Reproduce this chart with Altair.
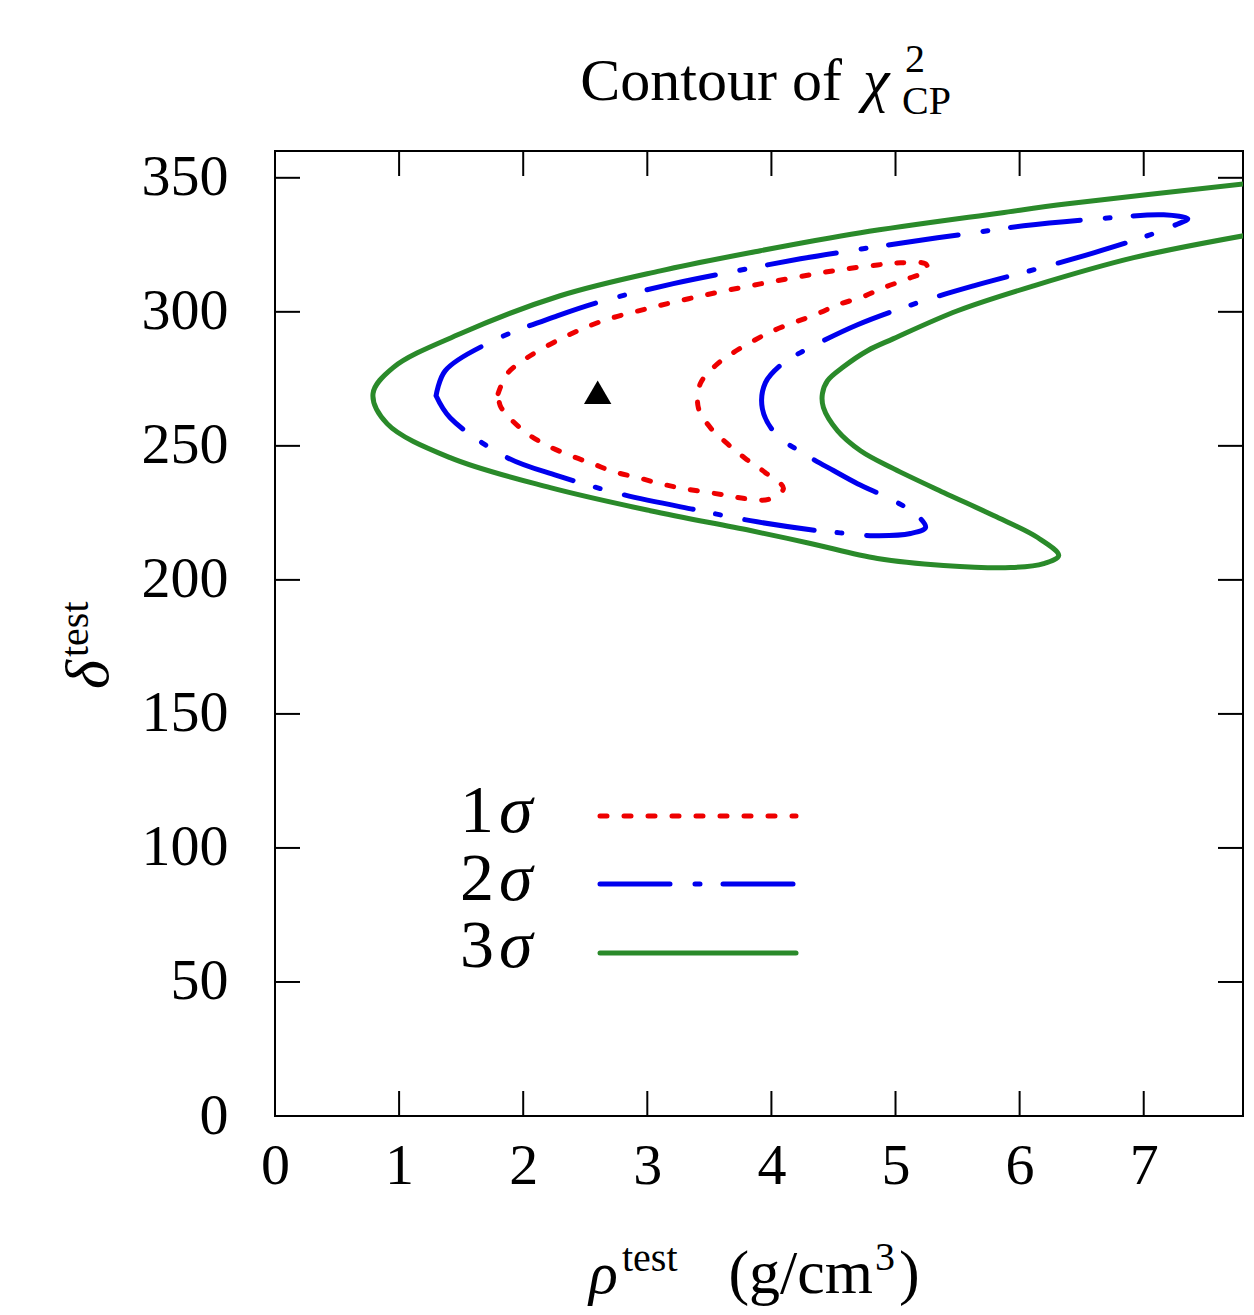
import altair as alt
import pandas as pd

# ---- data ----
red_rho = [1.798, 1.871, 2.032, 2.355, 2.645, 3.000, 3.371, 3.750, 4.129, 4.500, 4.855, 5.040, 5.242, 5.258,
           5.097, 4.903, 4.734, 4.532, 4.371, 4.016, 3.871, 3.694, 3.548, 3.427, 3.411, 3.508, 3.645, 3.790,
           3.952, 4.097, 3.976, 3.790, 3.605, 3.290, 3.105, 2.919, 2.726, 2.556, 2.379, 2.194, 2.032, 1.895,
           1.815, 1.798]
red_delta = [269.5, 276.9, 282.9, 291.1, 296.7, 301.2, 305.3, 309.0, 312.3, 315.3, 317.5, 318.3, 317.9, 315.6,
             312.3, 309.0, 305.6, 302.6, 299.3, 293.0, 289.6, 284.8, 279.9, 273.2, 264.3, 256.8, 250.8, 245.3,
             240.0, 234.1, 230.0, 230.3, 231.8, 234.1, 235.9, 238.2, 240.4, 243.4, 246.4, 250.1, 254.6, 260.2,
             265.0, 269.5]

blue_rho = [1.298, 1.371, 1.758, 2.274, 2.645, 3.210, 3.645, 4.234, 4.637, 5.065, 5.629, 6.032, 6.734, 7.161,
            7.355, 7.274, 7.032, 6.597, 6.169, 5.629, 5.226, 4.694, 4.234, 4.097, 3.952, 3.927, 4.032, 4.315,
            4.500, 4.694, 4.984, 5.177, 5.242, 5.121, 4.823, 4.613, 4.371, 3.831, 3.427, 2.806, 2.274, 1.871,
            1.411, 1.298]
blue_delta = [268.7, 278.0, 289.2, 298.5, 304.1, 310.5, 314.6, 319.8, 322.8, 325.8, 329.5, 332.1, 335.1, 336.2,
              334.7, 332.8, 328.4, 322.0, 316.4, 309.7, 304.1, 295.2, 284.8, 281.0, 273.6, 263.9, 254.6, 245.6,
              240.8, 235.9, 229.6, 224.0, 219.5, 217.3, 216.5, 217.3, 218.4, 222.1, 225.8, 231.8, 238.9, 245.6,
              260.5, 268.7]

green_rho = [7.806, 6.387, 5.847, 4.718, 3.911, 3.105, 2.298, 1.492, 0.952, 0.790, 0.903, 1.411, 2.218, 3.024,
             3.831, 4.315, 4.855, 5.387, 5.927, 6.194, 6.315, 6.145, 5.790, 5.387, 4.984, 4.718, 4.532, 4.419,
             4.411, 4.452, 4.581, 4.774, 4.984, 5.500, 6.113, 6.919, 7.806]
green_delta = [347.7, 340.3, 336.9, 329.5, 322.8, 315.3, 306.0, 291.8, 279.2, 269.5, 258.3, 245.6, 234.4, 225.8,
               218.4, 213.6, 208.0, 205.4, 204.6, 206.1, 209.1, 215.8, 224.0, 232.6, 241.5, 248.2, 255.7, 264.3,
               269.5, 274.3, 279.5, 285.5, 290.0, 300.4, 309.7, 320.2, 328.4]

best_rho = [2.6]
best_delta = [270]

x_ticks = [0, 1, 2, 3, 4, 5, 6, 7]
y_ticks = [0, 50, 100, 150, 200, 250, 300, 350]

legend_labels = ["1", "2", "3"]

# ---- layout ----
W, H = 968, 965
FONT = "Liberation Serif"
TICK = 25
RED, BLUE, GREEN = "#ee0000", "#0000ee", "#2a8a2a"
RED_DASH = [7, 17]
BLUE_DASH = [70, 25, 5, 23]

xscale = alt.Scale(domain=[0, 7.8], nice=False, zero=False)
yscale = alt.Scale(domain=[0, 360], nice=False, zero=False)
xaxis = alt.Axis(values=x_ticks, ticks=False, domain=False, grid=False, labelFont=FONT, labelFontSize=58,
                 labelColor="black", labelPadding=21, labelFlush=False, labelOverlap=False, title=None)
yaxis = alt.Axis(values=y_ticks, ticks=False, domain=False, grid=False, labelFont=FONT, labelFontSize=58,
                 labelColor="black", labelPadding=47, labelFlush=False, labelOverlap=False, title=None)


def contour(rho, delta, color, dash=None):
    df = pd.DataFrame({"rho": rho, "delta": delta, "idx": list(range(len(rho)))})
    kw = dict(color=color, strokeWidth=5, strokeCap="round", strokeJoin="round",
              interpolate="catmull-rom", clip=True)
    if dash:
        kw["strokeDash"] = dash
    return alt.Chart(df).mark_line(**kw).encode(
        x=alt.X("rho:Q", scale=xscale, axis=xaxis),
        y=alt.Y("delta:Q", scale=yscale, axis=yaxis),
        order="idx:Q",
    )


dummy = pd.DataFrame({"a": [0]})


def txt(s, x, y, size, italic=False, align="left", angle=0):
    kw = dict(text=s, font=FONT, fontSize=size, fontStyle="italic" if italic else "normal",
              align=align, baseline="alphabetic", color="black")
    if angle:
        kw["angle"] = angle
    return alt.Chart(dummy).mark_text(**kw).encode(x=alt.value(x), y=alt.value(y))


layers = []
# tick marks (inward, all four sides)
xt = pd.DataFrame({"v": x_ticks})
yt = pd.DataFrame({"v": y_ticks})
layers.append(alt.Chart(xt).mark_rule(color="black", strokeWidth=2).encode(
    x=alt.X("v:Q", scale=xscale, axis=xaxis), y=alt.value(H), y2=alt.value(H - TICK)))
layers.append(alt.Chart(xt).mark_rule(color="black", strokeWidth=2).encode(
    x=alt.X("v:Q", scale=xscale, axis=xaxis), y=alt.value(0), y2=alt.value(TICK)))
layers.append(alt.Chart(yt).mark_rule(color="black", strokeWidth=2).encode(
    y=alt.Y("v:Q", scale=yscale, axis=yaxis), x=alt.value(0), x2=alt.value(TICK)))
layers.append(alt.Chart(yt).mark_rule(color="black", strokeWidth=2).encode(
    y=alt.Y("v:Q", scale=yscale, axis=yaxis), x=alt.value(W), x2=alt.value(W - TICK)))

# contours
layers.append(contour(green_rho, green_delta, GREEN))
layers.append(contour(blue_rho, blue_delta, BLUE, BLUE_DASH))
layers.append(contour(red_rho, red_delta, RED, RED_DASH))

# best-fit point
layers.append(alt.Chart(pd.DataFrame({"rho": best_rho, "delta": best_delta})).mark_point(
    shape="triangle-up", filled=True, color="black", size=750, opacity=1).encode(
    x=alt.X("rho:Q", scale=xscale, axis=xaxis), y=alt.Y("delta:Q", scale=yscale, axis=yaxis)))

# legend (drawn inside the plot)
leg_y = [665, 733, 802]
leg_base = [681, 749, 816]
for lab, ly, lb, col, dash in zip(legend_labels, leg_y, leg_base, [RED, BLUE, GREEN],
                                  [RED_DASH, BLUE_DASH, None]):
    kw = dict(color=col, strokeWidth=5, strokeCap="round")
    if dash:
        kw["strokeDash"] = dash
    layers.append(alt.Chart(dummy).mark_rule(**kw).encode(
        x=alt.value(325), x2=alt.value(521), y=alt.value(ly)))
    layers.append(txt(lab, 219, lb, 68, align="right"))
    layers.append(txt("σ", 224, lb, 68, italic=True))

# title: Contour of χ²_CP
layers.append(txt("Contour of", 567, -51, 60, align="right"))
layers.append(txt("χ", 588, -51, 60, italic=True))
layers.append(txt("2", 630, -79, 40))
layers.append(txt("CP", 627, -37, 40))

# x title: ρ^test (g/cm³)
layers.append(txt("ρ", 314, 1142, 60, italic=True))
layers.append(txt("test", 347, 1120, 40))
layers.append(txt("(g/cm", 598, 1142, 62, align="right"))
layers.append(txt("3", 600, 1119, 40))
layers.append(txt(")", 624, 1142, 62))

# y title: δ^test (rotated)
layers.append(txt("δ", -167, 538, 62, italic=True, angle=270))
layers.append(txt("test", -187, 506, 40, angle=270))

chart = alt.layer(*layers).properties(
    width=W, height=H,
    autosize=alt.AutoSizeParams(type="none"),
    padding={"left": 267, "top": 143, "right": 3, "bottom": 200},
    background="white",
).configure_view(stroke="black", strokeWidth=2)

chart.save("out.html", embed_options={"renderer": "svg", "actions": False})
